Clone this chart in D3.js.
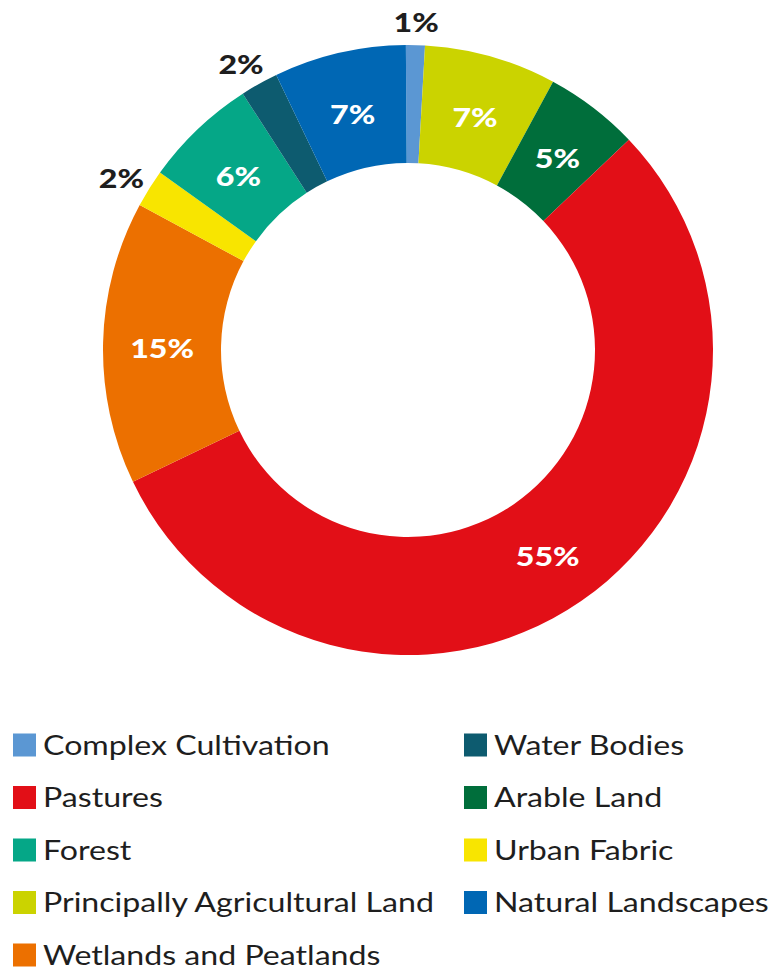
<!DOCTYPE html>
<html>
<head>
<meta charset="utf-8">
<script src="https://cdn.jsdelivr.net/npm/d3@7"></script>
<style>
html,body{margin:0;padding:0;background:#fff;}
svg{display:block;}
</style>
</head>
<body>
<svg id="chart" width="771" height="968"></svg>
<script>
// Slices in clockwise order starting at 12 o'clock
const categories = ["Complex Cultivation","Principally Agricultural Land","Arable Land","Pastures","Wetlands and Peatlands","Urban Fabric","Forest","Water Bodies","Natural Landscapes"];
const values = [1,7,5,55,15,2,6,2,7];
const colors = ["#5b97d3","#cbd300","#006e3b","#e20f17","#ec7000","#f8e500","#05a787","#0d5b6f","#0067b4"];
const labelOutside = [true,false,false,false,false,true,false,true,false];
// Legend layout (two columns)
const legendLeft = ["Complex Cultivation","Pastures","Forest","Principally Agricultural Land","Wetlands and Peatlands"];
const legendRight = ["Water Bodies","Arable Land","Urban Fabric","Natural Landscapes"];

const svg = d3.select("#chart");
const cx = 408, cy = 350, rOuter = 305, rInner = 187;
const stretch = 1.19;
const color = d3.scaleOrdinal().domain(categories).range(colors);

const data = categories.map((c,i)=>({cat:c, value:values[i], out:labelOutside[i]}));
const pie = d3.pie().value(d=>d.value).sort(null).startAngle(-0.007).endAngle(2*Math.PI-0.007);
const arcs = pie(data);
const arc = d3.arc().innerRadius(rInner).outerRadius(rOuter);
const arcMid = d3.arc().innerRadius((rInner+rOuter)/2).outerRadius((rInner+rOuter)/2);
const arcOut = d3.arc().innerRadius(332).outerRadius(332);

const g = svg.append("g").attr("transform",`translate(${cx},${cy})`);
g.selectAll("path.slice").data(arcs).join("path")
  .attr("class","slice")
  .attr("d",arc)
  .attr("fill",d=>color(d.data.cat));

const fmt = d => d3.format(".0f")(d.data.value) + "%";
g.selectAll("text.lbl").data(arcs).join("text")
  .attr("class","lbl")
  .attr("transform",d=>{
    const p = d.data.out ? arcOut.centroid(d) : arcMid.centroid(d);
    const dx = d.data.out && p[0] < -50 ? -5 : 0;
    return `translate(${p[0]+dx},${p[1]+4}) scale(${stretch},1)`;
  })
  .attr("text-anchor","middle")
  .attr("dy","0.36em")
  .attr("font-family","Lato, sans-serif")
  .attr("font-weight","900")
  .attr("font-size","27px")
  .attr("fill",d=>d.data.out ? "#1e1e1e" : "#ffffff")
  .text(fmt);

// Legend
const legY = d3.scalePoint().domain(d3.range(5)).range([745,955]);
function drawLegend(items, x){
  const lg = svg.append("g");
  const rows = lg.selectAll("g").data(items).join("g")
    .attr("transform",(d,i)=>`translate(${x},${legY(i)})`);
  rows.append("rect").attr("x",0).attr("y",-11.5).attr("width",23).attr("height",23)
    .attr("fill",d=>color(d));
  rows.append("text")
    .attr("transform",`translate(30,0) scale(${stretch},1)`)
    .attr("dy","0.36em")
    .attr("font-family","Lato, sans-serif").attr("font-size","27px")
    .attr("fill","#1e1e1e").text(d=>d);
}
drawLegend(legendLeft, 13);
drawLegend(legendRight, 464);
</script>
</body>
</html>
